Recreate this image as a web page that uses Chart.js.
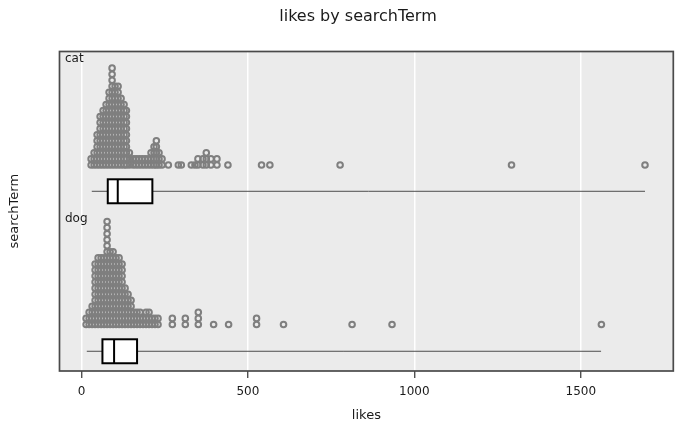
<!DOCTYPE html>
<html>
<head>
<meta charset="utf-8">
<script src="https://cdn.jsdelivr.net/npm/chart.js@4"></script>
<style>
  html, body { margin: 0; padding: 0; background: #fff; }
  #wrap { width: 680px; height: 426px; }
</style>
</head>
<body>
<div id="wrap"><canvas id="chart"></canvas></div>
<script>
// dot columns: likes value of each column and how many dots are stacked on it
const catLikes = [29, 38, 47, 56, 65, 74, 83, 92, 101, 110, 119, 128, 135,
  144, 155, 164, 173, 182, 191, 200, 209, 218, 225, 233, 242, 261, 291, 300,
  330, 341, 350, 365, 375, 389, 407, 440, 541, 566, 777, 1292, 1693];
const catCounts = [2, 3, 6, 9, 10, 11, 13, 17, 14, 14, 12, 11, 10,
  3, 2, 2, 2, 2, 2, 2, 3, 4, 5, 3, 2, 1, 1, 1,
  1, 1, 2, 2, 3, 2, 2, 1, 1, 1, 1, 1, 1];

const dogLikes = [14, 23, 32, 41, 50, 59, 68, 77, 86, 95, 104, 113, 122, 131, 140, 149,
  158, 167, 176, 185, 194, 203, 212, 221, 230, 273, 312, 351, 397, 442, 526, 607, 813, 933, 1562];
const dogCounts = [2, 3, 4, 11, 12, 12, 12, 18, 13, 13, 12, 12, 11, 7, 6, 5,
  3, 3, 3, 2, 3, 3, 2, 2, 2, 2, 2, 3, 1, 1, 2, 1, 1, 1, 1];

// boxplot stats: [whisker low, q1, median, q3, whisker high]
const catBox = [31, 79, 109, 213, 1693];
const dogBox = [16, 63, 98, 167, 1561];

const xTicks = [0, 500, 1000, 1500];

// vertical placement of each facet, in dot-height units
const layout = {
  cat: { dots: 34.05, box: 29.7, top: 52.8 },
  dog: { dots: 7.69, box: 3.26, top: 26.4 }
};
const boxHalf = 1.98;

function stack(likes, counts, base) {
  const pts = [];
  likes.forEach((v, i) => {
    for (let k = 0; k < counts[i]; k++) pts.push({ x: v, y: base + k });
  });
  return pts;
}

const font = '"DejaVu Sans", sans-serif';

const panelPlugin = {
  id: 'panel',
  beforeDraw(chart) {
    const { ctx, chartArea: a } = chart;
    ctx.save();
    ctx.fillStyle = '#ebebeb';
    ctx.fillRect(a.left, a.top, a.right - a.left, a.bottom - a.top);
    ctx.restore();
  },
  afterDatasetsDraw(chart) {
    const { ctx, chartArea: a, scales: { x, y } } = chart;
    ctx.save();
    [[catBox, layout.cat.box], [dogBox, layout.dog.box]].forEach(([b, c]) => {
      const yc = y.getPixelForValue(c);
      const y0 = y.getPixelForValue(c + boxHalf);
      const y1 = y.getPixelForValue(c - boxHalf);
      ctx.strokeStyle = '#4d4d4d';
      ctx.lineWidth = 1;
      ctx.beginPath();
      ctx.moveTo(x.getPixelForValue(b[0]), yc);
      ctx.lineTo(x.getPixelForValue(b[4]), yc);
      ctx.stroke();
      const q1 = x.getPixelForValue(b[1]);
      const q3 = x.getPixelForValue(b[3]);
      const md = x.getPixelForValue(b[2]);
      ctx.fillStyle = '#ffffff';
      ctx.fillRect(q1, y0, q3 - q1, y1 - y0);
      ctx.strokeStyle = '#000000';
      ctx.lineWidth = 2;
      ctx.strokeRect(q1, y0, q3 - q1, y1 - y0);
      ctx.beginPath();
      ctx.moveTo(md, y0);
      ctx.lineTo(md, y1);
      ctx.stroke();
    });

    ctx.strokeStyle = '#4a4a4a';
    ctx.lineWidth = 1.7;
    ctx.strokeRect(a.left, a.top, a.right - a.left, a.bottom - a.top);

    ctx.fillStyle = '#1a1a1a';
    ctx.font = '12px ' + font;
    ctx.textAlign = 'left';
    ctx.textBaseline = 'middle';
    ctx.fillText('cat', a.left + 5.5, y.getPixelForValue(layout.cat.top) + 7.5);
    ctx.fillText('dog', a.left + 5.5, y.getPixelForValue(layout.dog.top) + 7.5);

    ctx.font = '16px ' + font;
    ctx.textAlign = 'center';
    ctx.fillText('likes by searchTerm', 358, 17);
    ctx.restore();
  }
};

const chart = new Chart(document.getElementById('chart'), {
  type: 'scatter',
  data: {
    datasets: [
      { label: 'cat', data: stack(catLikes, catCounts, layout.cat.dots) },
      { label: 'dog', data: stack(dogLikes, dogCounts, layout.dog.dots) }
    ]
  },
  options: {
    responsive: true,
    maintainAspectRatio: false,
    animation: false,
    layout: { padding: { top: 51.5, right: 6.7, left: 0, bottom: 0 } },
    elements: {
      point: { radius: 2.8, borderWidth: 2, borderColor: '#7f7f7f', backgroundColor: 'rgba(0,0,0,0)' }
    },
    plugins: {
      legend: { display: false },
      tooltip: { enabled: false },
      title: { display: false }
    },
    scales: {
      x: {
        type: 'linear',
        min: -66,
        max: 1778,
        afterBuildTicks: (s) => { s.ticks = xTicks.map(v => ({ value: v })); },
        afterFit: (s) => { s.height = 55; },
        ticks: { padding: 7, color: '#1a1a1a', font: { family: font, size: 12 }, callback: v => String(v) },
        grid: { color: '#ffffff', lineWidth: 1.5, tickLength: 7, tickColor: '#333333', tickWidth: 1.2 },
        border: { display: false },
        title: { display: true, text: 'likes', color: '#1a1a1a', font: { family: font, size: 13 }, padding: { top: 0, bottom: 3 } }
      },
      y: {
        type: 'linear',
        min: 0,
        max: 52.8,
        afterFit: (s) => { s.width = 59.5; },
        ticks: { display: false },
        grid: { display: false },
        border: { display: false },
        title: { display: true, text: 'searchTerm', color: '#1a1a1a', font: { family: font, size: 13 }, padding: { top: 7, bottom: 0 } }
      }
    }
  },
  plugins: [panelPlugin]
});
</script>
</body>
</html>
